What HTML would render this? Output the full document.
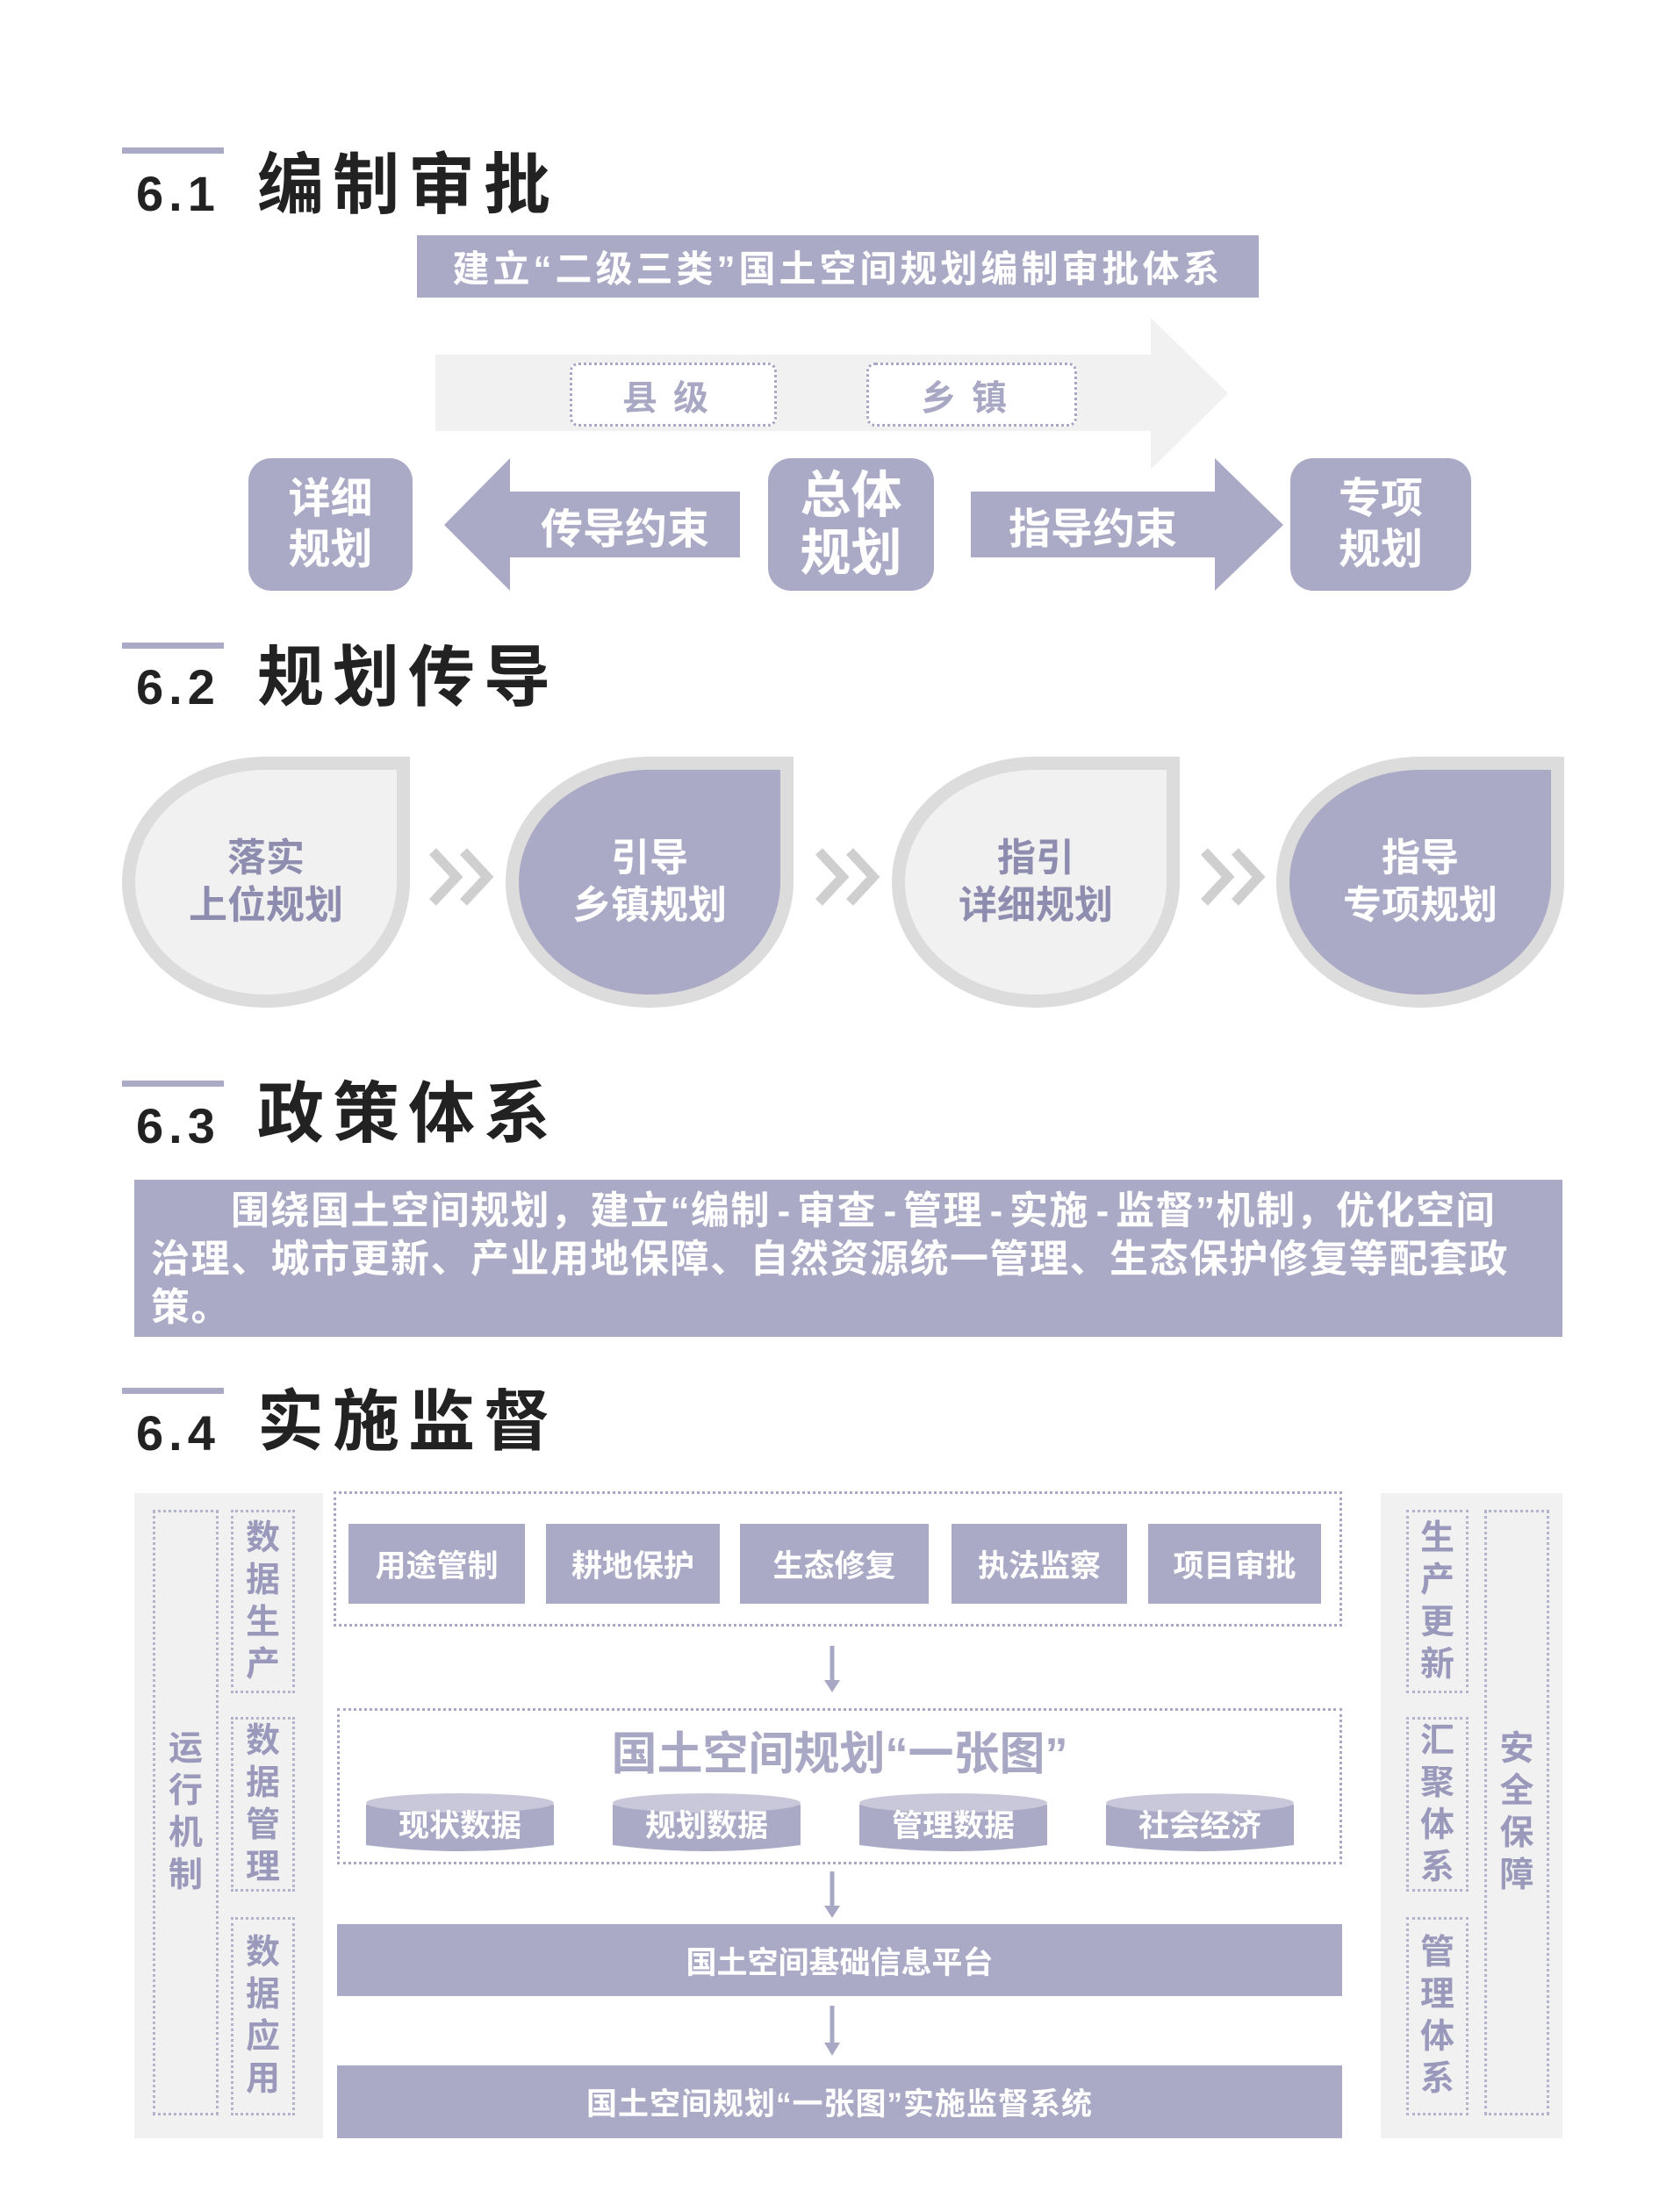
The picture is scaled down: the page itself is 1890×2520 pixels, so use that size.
<!DOCTYPE html>
<html><head><meta charset="utf-8"><style>
*{margin:0;padding:0;box-sizing:border-box}
body{width:1890px;height:2520px;background:#fff;position:relative;overflow:hidden;font-family:"Liberation Sans","Noto Sans CJK SC",sans-serif;font-weight:bold}
.a{position:absolute}
.bar{position:absolute;left:139px;width:116px;height:7px;background:#abaac6}
.tn{position:absolute;left:155px;font-size:56px;color:#222;letter-spacing:6px}
.tt{position:absolute;left:293px;font-size:76px;color:#222;letter-spacing:10px;line-height:1}
.p{background:#abaac6;color:#fff;display:flex;align-items:center;justify-content:center;text-align:center}
.dot{border:3px dotted #a9a8c4}
.drop{position:absolute;top:862px;width:328px;height:286px;background:#dcdcdc;border-radius:50% 0 50% 50%/50% 0 50% 50%}
.drop .in{position:absolute;left:15px;top:15px;right:15px;bottom:15px;border-radius:50% 0 50% 50%/50% 0 50% 50%;display:flex;align-items:center;justify-content:center;text-align:center;font-size:44px;line-height:54px}
.lt{background:#f1f1f1;color:#8e8db0}
.dk{background:#abaac6;color:#fff}
.vt{position:absolute;display:flex;flex-direction:column;align-items:center;justify-content:center;color:#9a99bb;font-size:39px;line-height:48px;border:3px dotted #b4b3cc}
.btn{position:absolute;height:91px;font-size:35px}
.hy{display:inline-block;width:30px;text-align:center;letter-spacing:0}
#s4{position:absolute;left:0;top:-8px;width:1890px;height:2520px}
</style></head><body>

<div class="bar" style="top:168px"></div>
<div class="tn" style="top:188px">6.1</div>
<div class="tt" style="top:174px">编制审批</div>

<div class="a p" style="left:475px;top:268px;width:959px;height:71px;font-size:42px;letter-spacing:4px">建立“二级三类”国土空间规划编制审批体系</div>

<svg class="a" style="left:0;top:0" width="1890" height="720">
<polygon points="496,404 1311,404 1311,362 1399,448 1311,535 1311,491 496,491" fill="#f1f1f1"/>
<polygon points="506,598 581,522 581,560 843,560 843,635 581,635 581,673" fill="#abaac6"/>
<polygon points="1106,560 1384,560 1384,522 1462,598 1384,673 1384,635 1106,635" fill="#abaac6"/>
</svg>
<div class="a dot" style="left:649px;top:413px;width:236px;height:73px;border-radius:10px;background:#fff;display:flex;align-items:center;justify-content:center;color:#a9a8c4;font-size:40px;letter-spacing:18px">县级</div>
<div class="a dot" style="left:987px;top:413px;width:240px;height:73px;border-radius:10px;background:#fff;display:flex;align-items:center;justify-content:center;color:#a9a8c4;font-size:40px;letter-spacing:18px">乡镇</div>
<div class="a p" style="left:283px;top:522px;width:187px;height:151px;border-radius:26px;font-size:48px;line-height:58px">详细<br>规划</div>
<div class="a p" style="left:875px;top:522px;width:189px;height:151px;border-radius:26px;font-size:58px;line-height:66px">总体<br>规划</div>
<div class="a p" style="left:1470px;top:522px;width:206px;height:151px;border-radius:26px;font-size:48px;line-height:58px">专项<br>规划</div>
<div class="a" style="left:581px;top:560px;width:262px;height:75px;color:#fff;font-size:48px;display:flex;align-items:center;justify-content:center">传导约束</div>
<div class="a" style="left:1106px;top:560px;width:278px;height:75px;color:#fff;font-size:48px;display:flex;align-items:center;justify-content:center">指导约束</div>

<div class="bar" style="top:732px"></div>
<div class="tn" style="top:750px">6.2</div>
<div class="tt" style="top:735px">规划传导</div>

<div class="drop" style="left:139px"><div class="in lt">落实<br>上位规划</div></div>
<div class="drop" style="left:576px"><div class="in dk">引导<br>乡镇规划</div></div>
<div class="drop" style="left:1016px"><div class="in lt">指引<br>详细规划</div></div>
<div class="drop" style="left:1454px"><div class="in dk">指导<br>专项规划</div></div>
<svg class="a" style="left:0;top:960px" width="1890" height="80">
<g fill="none" stroke="#cfcfcf" stroke-width="11">
<polyline points="493,10 520,39 493,68"/><polyline points="528,10 555,39 528,68"/>
<polyline points="933,10 960,39 933,68"/><polyline points="968,10 995,39 968,68"/>
<polyline points="1372,10 1399,39 1372,68"/><polyline points="1407,10 1434,39 1407,68"/>
</g></svg>

<div class="bar" style="top:1231px"></div>
<div class="tn" style="top:1250px">6.3</div>
<div class="tt" style="top:1232px">政策体系</div>
<div class="a" style="left:153px;top:1344px;width:1627px;height:179px;background:#abaac6;color:#fff;font-size:44px;line-height:55px;padding:8px 0 0 19px;white-space:nowrap;letter-spacing:1.5px">　　围绕国土空间规划，建立“编制<span class="hy">-</span>审查<span class="hy">-</span>管理<span class="hy">-</span>实施<span class="hy">-</span>监督”机制，优化空间<br>治理、城市更新、产业用地保障、自然资源统一管理、生态保护修复等配套政<br>策。</div>

<div id="s4">
<div class="bar" style="top:1589px"></div>
<div class="tn" style="top:1608px">6.4</div>
<div class="tt" style="top:1591px">实施监督</div>

<div class="a" style="left:153px;top:1709px;width:215px;height:735px;background:#f1f1f1"></div>
<div class="a" style="left:1573px;top:1709px;width:207px;height:735px;background:#f1f1f1"></div>
<div class="vt" style="left:174px;top:1728px;width:75px;height:690px">运<br>行<br>机<br>制</div>
<div class="vt" style="left:263px;top:1728px;width:73px;height:209px">数<br>据<br>生<br>产</div>
<div class="vt" style="left:263px;top:1964px;width:73px;height:199px">数<br>据<br>管<br>理</div>
<div class="vt" style="left:263px;top:2192px;width:73px;height:226px">数<br>据<br>应<br>用</div>
<div class="vt" style="left:1602px;top:1728px;width:71px;height:209px">生<br>产<br>更<br>新</div>
<div class="vt" style="left:1602px;top:1964px;width:71px;height:199px">汇<br>聚<br>体<br>系</div>
<div class="vt" style="left:1602px;top:2192px;width:71px;height:226px">管<br>理<br>体<br>系</div>
<div class="vt" style="left:1691px;top:1728px;width:74px;height:690px">安<br>全<br>保<br>障</div>

<div class="a dot" style="left:380px;top:1707px;width:1149px;height:154px"></div>
<div class="btn p" style="left:397px;top:1744px;width:201px">用途管制</div>
<div class="btn p" style="left:622px;top:1744px;width:198px">耕地保护</div>
<div class="btn p" style="left:843px;top:1744px;width:215px">生态修复</div>
<div class="btn p" style="left:1084px;top:1744px;width:200px">执法监察</div>
<div class="btn p" style="left:1308px;top:1744px;width:197px">项目审批</div>

<div class="a dot" style="left:384px;top:1954px;width:1145px;height:178px"></div>
<div class="a" style="left:384px;top:1964px;width:1145px;text-align:center;color:#a9a8c4;font-size:52px">国土空间规划“一张图”</div>
<svg class="a" style="left:0;top:2040px" width="1890" height="90">
<g fill="#abaac6"><path d="M417 24 Q524 2 631 24 L631 70 Q524 84 417 70Z"/><path d="M698 24 Q805 2 912 24 L912 70 Q805 84 698 70Z"/><path d="M979 24 Q1086 2 1193 24 L1193 70 Q1086 84 979 70Z"/><path d="M1260 24 Q1367 2 1474 24 L1474 70 Q1367 84 1260 70Z"/></g>
<g fill="#c9c8da"><ellipse cx="524" cy="22" rx="107" ry="11"/><ellipse cx="805" cy="22" rx="107" ry="11"/><ellipse cx="1086" cy="22" rx="107" ry="11"/><ellipse cx="1367" cy="22" rx="107" ry="11"/></g>
</svg>
<div class="a" style="left:417px;top:2060px;width:214px;text-align:center;color:#fff;font-size:35px">现状数据</div>
<div class="a" style="left:698px;top:2060px;width:214px;text-align:center;color:#fff;font-size:35px">规划数据</div>
<div class="a" style="left:979px;top:2060px;width:214px;text-align:center;color:#fff;font-size:35px">管理数据</div>
<div class="a" style="left:1260px;top:2060px;width:214px;text-align:center;color:#fff;font-size:35px">社会经济</div>

<svg class="a" style="left:0;top:1870px" width="1890" height="490">
<g stroke="#a9a8c4" stroke-width="5"><line x1="948" y1="13" x2="948" y2="55"/><line x1="948" y1="270" x2="948" y2="312"/><line x1="948" y1="423" x2="948" y2="468"/></g>
<g fill="#a9a8c4"><polygon points="939,52 957,52 948,66"/><polygon points="939,309 957,309 948,323"/><polygon points="939,465 957,465 948,480"/></g>
</svg>

<div class="a p" style="left:384px;top:2200px;width:1145px;height:82px;font-size:35px">国土空间基础信息平台</div>
<div class="a p" style="left:384px;top:2361px;width:1145px;height:83px;font-size:35px;letter-spacing:1px">国土空间规划“一张图”实施监督系统</div>
</div>
</body></html>
